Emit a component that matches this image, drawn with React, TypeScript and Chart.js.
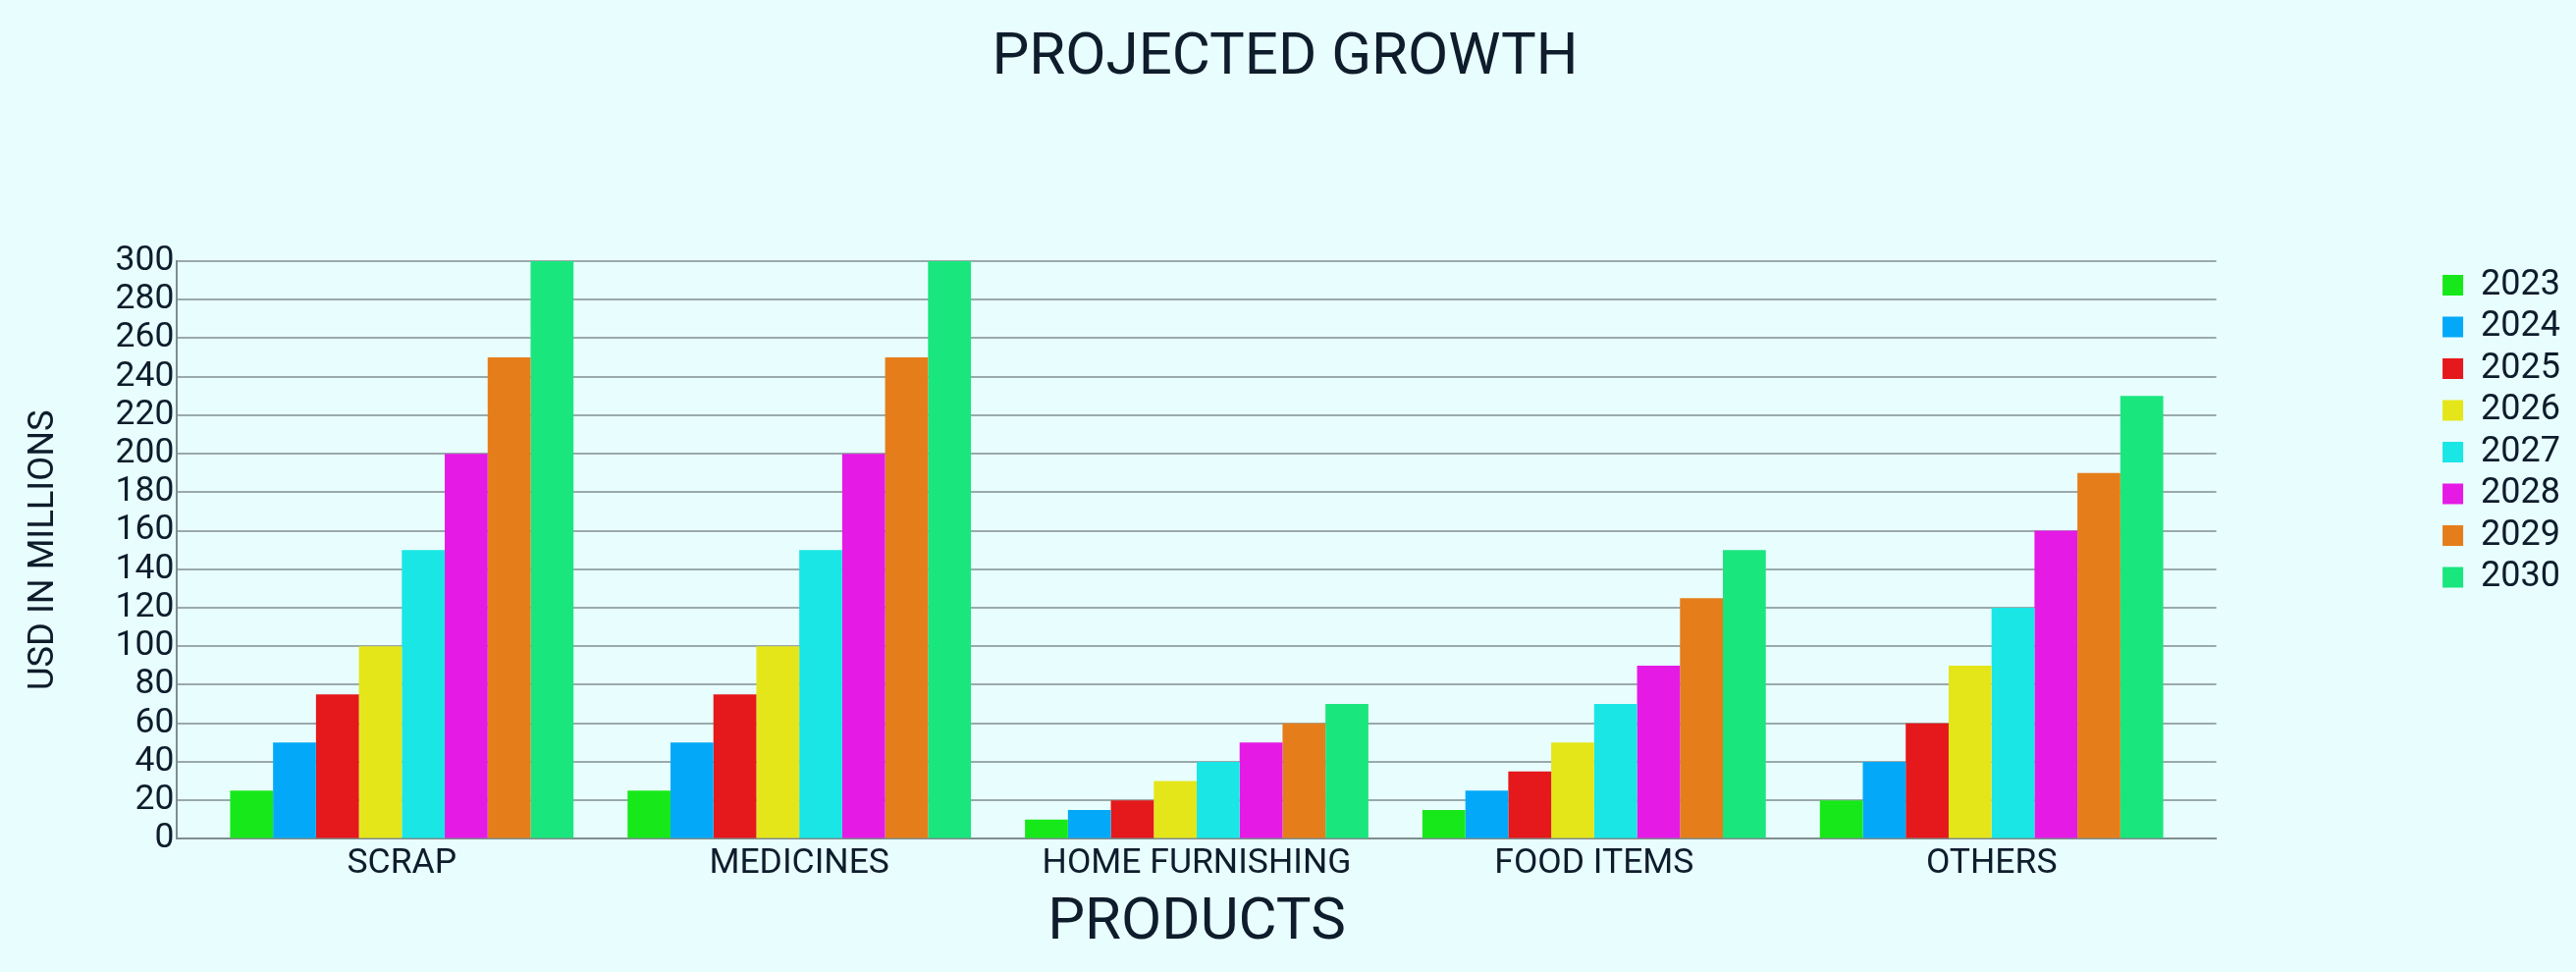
import React, { useEffect, useRef } from "react";
import { Chart, registerables } from "chart.js";

Chart.register(...registerables);

const categories = ["SCRAP", "MEDICINES", "HOME FURNISHING", "FOOD ITEMS", "OTHERS"];
const years = ["2023", "2024", "2025", "2026", "2027", "2028", "2029", "2030"];

const v2023 = [25, 25, 10, 15, 20];
const v2024 = [50, 50, 15, 25, 40];
const v2025 = [75, 75, 20, 35, 60];
const v2026 = [100, 100, 30, 50, 90];
const v2027 = [150, 150, 40, 70, 120];
const v2028 = [200, 200, 50, 90, 160];
const v2029 = [250, 250, 60, 125, 190];
const v2030 = [300, 300, 70, 150, 230];

const seriesValues = [v2023, v2024, v2025, v2026, v2027, v2028, v2029, v2030];
const seriesColors = ["#17E81A", "#03A9F8", "#E5181B", "#E5E61A", "#1AE6E6", "#E51AE5", "#E57E1A", "#1AE67E"];

const yMin = 0;
const yMax = 300;
const yStep = 20;

const BG = "#E8FDFE";
const TEXT = "#0E1C2B";
const FONT = "Roboto";

export default function App() {
  const canvasRef = useRef<HTMLCanvasElement | null>(null);

  useEffect(() => {
    document.body.style.background = BG;
    const canvas = canvasRef.current;
    if (!canvas) return;
    const chart = new Chart(canvas, {
      type: "bar",
      data: {
        datasets: years.map((yr, i) => ({
          label: yr,
          data: seriesValues[i].map((y, x) => ({ x, y })),
          backgroundColor: seriesColors[i],
          borderWidth: 0,
          categoryPercentage: 0.864,
          barPercentage: 1,
        })),
      },
      options: {
        animation: false,
        responsive: true,
        maintainAspectRatio: false,
        layout: { padding: { top: 0, left: 0, right: 6, bottom: 13 } },
        plugins: {
          title: {
            display: true,
            text: "PROJECTED GROWTH",
            color: TEXT,
            font: { family: FONT, size: 60, weight: "normal" },
            padding: { top: 24, bottom: 170 },
          },
          legend: {
            display: true,
            position: "right",
            align: "start",
            fullSize: false,
            labels: {
              color: TEXT,
              font: { family: FONT, size: 36 },
              boxWidth: 21,
              boxHeight: 21,
              padding: 6.5,
            },
          },
          tooltip: { enabled: false },
        },
        scales: {
          x: {
            type: "linear",
            min: -0.5654,
            max: categories.length - 1 + 0.5654,
            offset: false,
            grid: { display: false, drawTicks: false },
            border: { display: true, color: "#7E8E8E", width: 2 },
            afterBuildTicks: (scale: any) => {
              scale.ticks = categories.map((_, i) => ({ value: i }));
            },
            ticks: {
              autoSkip: false,
              maxRotation: 0,
              minRotation: 0,
              padding: 4,
              color: TEXT,
              font: { family: FONT, size: 35.5 },
              callback: (v: any) => categories[Number(v)] ?? "",
            },
            title: {
              display: true,
              text: "PRODUCTS",
              color: TEXT,
              font: { family: FONT, size: 60 },
              padding: { top: 0, bottom: 0 },
            },
          },
          y: {
            type: "linear",
            min: yMin,
            max: yMax,
            grid: { display: true, color: "#9AAAAA", lineWidth: 2, drawTicks: false },
            border: { display: true, color: "#7E8E8E", width: 2 },
            ticks: {
              stepSize: yStep,
              autoSkip: false,
              padding: 3,
              color: TEXT,
              font: { family: FONT, size: 35.5 },
            },
            title: {
              display: true,
              text: "USD IN MILLIONS",
              color: TEXT,
              font: { family: FONT, size: 36.3 },
              padding: { top: 23, bottom: 48 },
            },
          },
          yRight: {
            type: "linear",
            position: "right",
            display: true,
            grid: { display: false, drawTicks: false },
            border: { display: false },
            ticks: { display: false },
            afterFit: (scale: any) => {
              scale.width = 224;
            },
          },
        },
      } as any,
    });
    return () => chart.destroy();
  }, []);

  return (
    <div
      style={{
        position: "absolute",
        left: 0,
        top: 0,
        width: 2624,
        height: 990,
        background: BG,
      }}
    >
      <canvas ref={canvasRef} />
    </div>
  );
}
